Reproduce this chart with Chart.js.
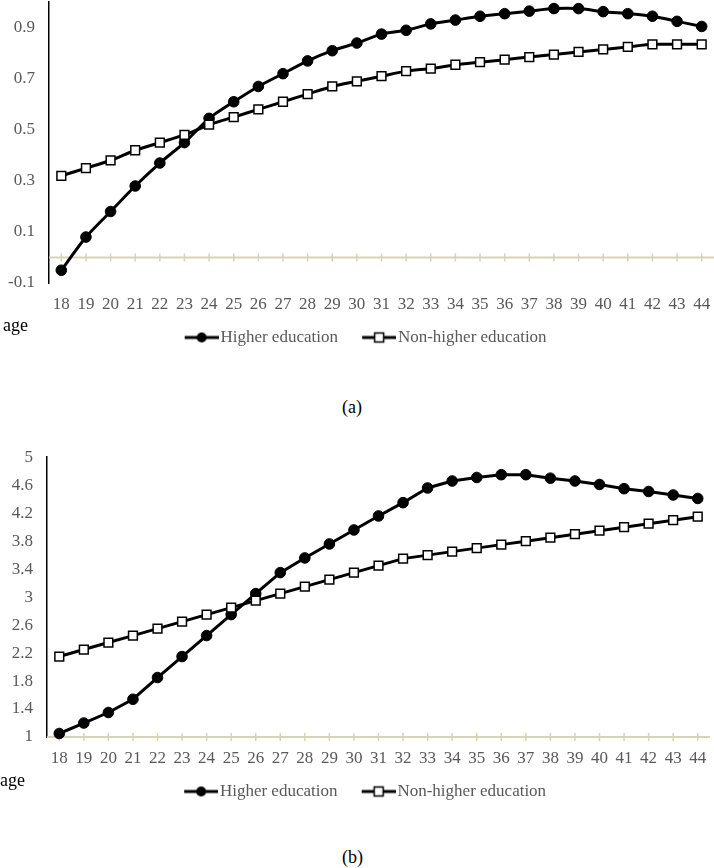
<!DOCTYPE html>
<html>
<head>
<meta charset="utf-8">
<script src="https://cdn.jsdelivr.net/npm/chart.js@4.4.1/dist/chart.umd.min.js"></script>
<style>
  body { margin: 0; background: #fff; }
  #page { position: relative; width: 714px; height: 868px; overflow: hidden; background: #fff; }
  canvas { position: absolute; left: 0; }
  .txt { position: absolute; font-family: 'Liberation Serif', 'Times New Roman', serif; font-size: 18px; line-height: 18px; color: #000; white-space: nowrap; }
</style>
</head>
<body>
<div id="page">
  <canvas id="chartA" width="714" height="378" style="top:-22px"></canvas>
  <canvas id="chartB" width="714" height="377" style="top:433px"></canvas>
  <div class="txt" style="left:3px; top:316px">age</div>
  <div class="txt" style="left:342px; top:398px">(a)</div>
  <div class="txt" style="left:0px; top:771px">age</div>
  <div class="txt" style="left:342px; top:848px">(b)</div>
</div>
<script>
// 年龄分类
const ages = ['18', '19', '20', '21', '22', '23', '24', '25', '26', '27', '28', '29', '30', '31',
              '32', '33', '34', '35', '36', '37', '38', '39', '40', '41', '42', '43', '44'];

// (a) 数据
const higherA = [-0.05, 0.08, 0.18, 0.28, 0.37, 0.45, 0.545, 0.61, 0.67, 0.72, 0.77, 0.81, 0.84, 0.875,
                 0.89, 0.915, 0.93, 0.945, 0.955, 0.965, 0.975, 0.975, 0.963, 0.955, 0.945, 0.925, 0.905];
const nonHigherA = [0.32, 0.35, 0.38, 0.42, 0.45, 0.48, 0.52, 0.55, 0.58, 0.61, 0.64, 0.67, 0.69, 0.71,
                    0.73, 0.74, 0.755, 0.765, 0.775, 0.785, 0.795, 0.805, 0.815, 0.825, 0.835, 0.835, 0.835];
const ticksA = [-0.1, 0.1, 0.3, 0.5, 0.7, 0.9];

// (b) 数据
const higherB = [1.05, 1.2, 1.35, 1.54, 1.85, 2.15, 2.45, 2.75, 3.05, 3.35, 3.56, 3.76, 3.96, 4.16,
                 4.35, 4.56, 4.66, 4.71, 4.75, 4.75, 4.7, 4.66, 4.61, 4.55, 4.51, 4.46, 4.41];
const nonHigherB = [2.15, 2.25, 2.35, 2.45, 2.55, 2.65, 2.75, 2.85, 2.95, 3.05, 3.15, 3.25, 3.35, 3.45,
                    3.55, 3.6, 3.65, 3.7, 3.75, 3.8, 3.85, 3.9, 3.95, 4.0, 4.05, 4.1, 4.15];
const ticksB = [1, 1.4, 1.8, 2.2, 2.6, 3, 3.4, 3.8, 4.2, 4.6, 5];

const seriesNames = ['Higher education', 'Non-higher education'];

const tickColor = '#595959';
const axisTan = '#d8d3b6';

Chart.defaults.font.family = "'Liberation Serif', 'Times New Roman', serif";
Chart.defaults.font.size = 17;

// 图例标记：线段加点
function legendMarker(kind) {
    const c = document.createElement('canvas');
    c.width = 50;
    c.height = 14;
    const g = c.getContext('2d');
    g.strokeStyle = '#000';
    g.lineWidth = 3;
    g.beginPath();
    g.moveTo(16, 7);
    g.lineTo(50, 7);
    g.stroke();
    if (kind === 'circle') {
        g.fillStyle = '#000';
        g.beginPath();
        g.arc(33, 7, 5, 0, Math.PI * 2);
        g.fill();
    } else {
        g.fillStyle = '#fff';
        g.fillRect(28.5, 2.5, 9, 9);
        g.lineWidth = 1.5;
        g.strokeRect(28.5, 2.5, 9, 9);
    }
    return c;
}
const markers = [legendMarker('circle'), legendMarker('rect')];

// 横轴基线（带刻度）
const baseLine = {
    id: 'baseLine',
    beforeDatasetsDraw(chart, args, opts) {
        const { ctx, chartArea, scales } = chart;
        const y = scales.y.getPixelForValue(opts.value);
        ctx.save();
        ctx.strokeStyle = axisTan;
        ctx.lineWidth = 2;
        ctx.beginPath();
        ctx.moveTo(chartArea.left, y);
        ctx.lineTo(chartArea.right, y);
        ctx.stroke();
        ctx.lineWidth = 1.5;
        chart.data.labels.forEach((lab, i) => {
            const x = scales.x.getPixelForValue(i);
            ctx.beginPath();
            ctx.moveTo(x, y - 4);
            ctx.lineTo(x, y + 4);
            ctx.stroke();
        });
        ctx.restore();
    }
};

function makeChart(id, higher, nonHigher, yTicks, yMin, yMax, base, tension, padLeft, padRight, yWidth) {
    const ctx = document.getElementById(id).getContext('2d');
    return new Chart(ctx, {
        type: 'line',
        data: {
            labels: ages,
            datasets: [{
                label: seriesNames[0],
                data: higher,
                borderColor: '#000',
                borderWidth: 3,
                tension: tension,
                pointStyle: 'circle',
                pointRadius: 5.3,
                pointBackgroundColor: '#000',
                pointBorderColor: '#000',
                pointBorderWidth: 1,
                clip: 10,
                order: 1
            }, {
                label: seriesNames[1],
                data: nonHigher,
                borderColor: '#000',
                borderWidth: 3,
                tension: tension,
                pointStyle: 'rect',
                pointRadius: 6.2,
                pointBackgroundColor: '#fff',
                pointBorderColor: '#000',
                pointBorderWidth: 1.5,
                clip: 10,
                order: 0
            }]
        },
        options: {
            responsive: false,
            animation: false,
            events: [],
            layout: { autoPadding: false, padding: { left: padLeft, right: padRight, top: 0, bottom: 0 } },
            scales: {
                x: {
                    type: 'category',
                    offset: true,
                    grid: { display: false, drawTicks: false },
                    border: { display: false },
                    ticks: {
                        color: tickColor,
                        padding: 0,
                        font: { size: 17, lineHeight: 2.5 },
                        autoSkip: false,
                        maxRotation: 0
                    },
                    afterFit: function(scale) { scale.height = 31; }
                },
                y: {
                    type: 'linear',
                    min: yMin,
                    max: yMax,
                    afterBuildTicks: function(scale) {
                        scale.ticks = yTicks.map(v => ({ value: v }));
                    },
                    afterFit: function(scale) { scale.width = yWidth; },
                    grid: { display: false, drawTicks: false },
                    border: { display: true, color: '#000', width: 1.5 },
                    ticks: {
                        color: tickColor,
                        padding: 14,
                        callback: v => String(v)
                    }
                }
            },
            plugins: {
                baseLine: { value: base },
                tooltip: { enabled: false },
                legend: {
                    position: 'bottom',
                    labels: {
                        color: tickColor,
                        usePointStyle: true,
                        pointStyleWidth: 36.5,
                        padding: 15,
                        generateLabels: function(chart) {
                            return chart.data.datasets.map((ds, i) => ({
                                text: ds.label,
                                fillStyle: '#000',
                                strokeStyle: '#000',
                                lineWidth: 0,
                                hidden: false,
                                datasetIndex: i,
                                pointStyle: markers[i],
                                fontColor: tickColor
                            }));
                        }
                    }
                }
            }
        },
        plugins: [baseLine]
    });
}

makeChart('chartA', higherA, nonHigherA, ticksA, -0.1, 1.0, 0, 0.2, 8, 0, 41);
makeChart('chartB', higherB, nonHigherB, ticksB, 1, 5, 1, 0, 11, 4, 36);
</script>
</body>
</html>
